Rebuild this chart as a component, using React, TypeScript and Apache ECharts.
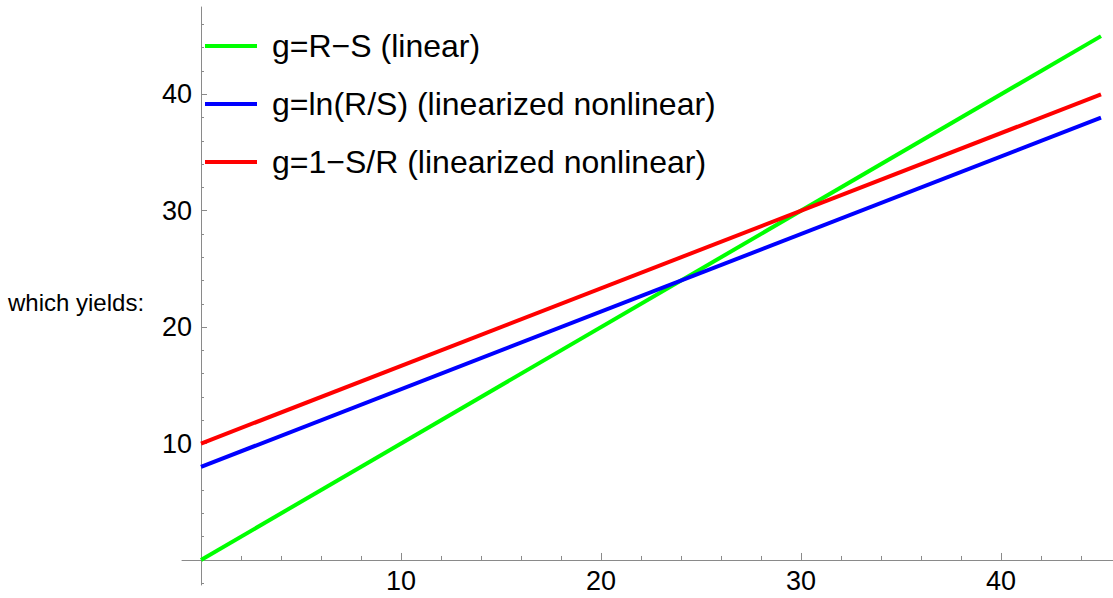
import React, { useEffect, useRef } from 'react';
import * as echarts from 'echarts';

const xValues = [0, 45];
const linearG = [0, 45];
const lnG = [8, 38];
const invG = [10, 40];
const seriesNames = [
  'g=R\u2212S (linear)',
  'g=ln(R/S) (linearized nonlinear)',
  'g=1\u2212S/R (linearized nonlinear)',
];
const seriesColors = ['#00ff00', '#0000ff', '#ff0000'];
const majorTicks = [10, 20, 30, 40];
const xMinorTicks = [2, 4, 6, 8, 12, 14, 16, 18, 22, 24, 26, 28, 32, 34, 36, 38, 42, 44];
const yMinorTicks = [-2, 2, 4, 6, 8, 12, 14, 16, 18, 22, 24, 26, 28, 32, 34, 36, 38, 42, 44, 46];
const sideText = 'which yields:';

const FONT = '"Liberation Sans", Arial, Helvetica, sans-serif';
const AXIS_COLOR = '#8a8a8a';

export default function App() {
  const ref = useRef<HTMLDivElement>(null);
  useEffect(() => {
    if (!ref.current) return;
    const chart = echarts.init(ref.current, null, { renderer: 'svg' });
    const seriesData = [linearG, lnG, invG];
    const xMin = -0.95;
    const xMax = 45.6;
    const yMin = -2.15;
    const yMax = 47.5;
    const gridLeft = 182;
    const gridTop = 7;
    const gridW = 1113 - gridLeft;
    const gridH = 598 - 13 - gridTop;
    // offsets that put the second (major-tick) axes on the zero lines
    const xZeroOffset = -(gridH * (0 - yMin)) / (yMax - yMin);
    const yZeroOffset = -(gridW * (0 - xMin)) / (xMax - xMin);
    const lineStyle = { color: AXIS_COLOR, width: 1 };
    const hiddenLine = { color: 'rgba(0,0,0,0)', width: 1 };
    chart.setOption({
      animation: false,
      backgroundColor: '#ffffff',
      grid: { left: gridLeft, right: 0, top: gridTop, bottom: 13, containLabel: false, outerBoundsMode: 'none' },
      xAxis: [
        {
          type: 'value', min: xMin, max: xMax, position: 'bottom',
          axisLine: { show: true, onZero: true, onZeroAxisIndex: 0, lineStyle },
          axisTick: { show: true, inside: true, length: 4, customValues: xMinorTicks, lineStyle },
          axisLabel: { show: false },
          splitLine: { show: false },
        },
        {
          type: 'value', min: xMin, max: xMax, position: 'bottom', offset: xZeroOffset,
          axisLine: { show: true, onZero: false, lineStyle: hiddenLine },
          axisTick: { show: true, inside: true, length: 7, customValues: majorTicks, lineStyle },
          axisLabel: { show: true, customValues: majorTicks, fontSize: 27, color: '#000', fontFamily: FONT, margin: 8 },
          splitLine: { show: false },
        },
      ],
      yAxis: [
        {
          type: 'value', min: yMin, max: yMax, position: 'left',
          axisLine: { show: true, onZero: true, onZeroAxisIndex: 0, lineStyle },
          axisTick: { show: true, inside: true, length: 3, customValues: yMinorTicks, lineStyle },
          axisLabel: { show: false },
          splitLine: { show: false },
        },
        {
          type: 'value', min: yMin, max: yMax, position: 'left', offset: yZeroOffset,
          axisLine: { show: true, onZero: false, lineStyle: hiddenLine },
          axisTick: { show: true, inside: true, length: 6, customValues: majorTicks, lineStyle },
          axisLabel: { show: true, customValues: majorTicks, fontSize: 27, color: '#000', fontFamily: FONT, margin: 9 },
          splitLine: { show: false },
        },
      ],
      legend: {
        show: true,
        orient: 'vertical',
        left: 205,
        top: 30,
        padding: 0,
        itemWidth: 52,
        itemHeight: 4,
        itemGap: 26,
        icon: 'rect',
        selectedMode: false,
        data: seriesNames,
        textStyle: { fontSize: 32, color: '#000', fontFamily: FONT, padding: [0, 0, 0, 10] },
      },
      graphic: [
        {
          type: 'text', left: 8, top: 290,
          style: { text: sideText, fontSize: 24, fill: '#000', fontFamily: FONT },
        },
      ],
      series: seriesNames.map((name, i) => ({
        name,
        type: 'line',
        xAxisIndex: 0,
        yAxisIndex: 0,
        showSymbol: false,
        symbol: 'none',
        clip: false,
        color: seriesColors[i],
        lineStyle: { color: seriesColors[i], width: 4 },
        itemStyle: { color: seriesColors[i] },
        data: xValues.map((x, j) => [x, seriesData[i][j]]),
      })),
    });
    return () => chart.dispose();
  }, []);
  return <div ref={ref} style={{ position: 'fixed', left: 0, top: 0, width: 1113, height: 598 }} />;
}
